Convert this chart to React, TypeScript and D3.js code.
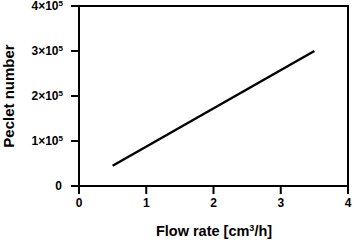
import React from "react";
import * as d3 from "d3";

const flowRates = [0.5, 3.5];
const pecletValues = [45000, 300000];
const xTicks = [0, 1, 2, 3, 4];
const yTicks = [0, 1, 2, 3, 4];

const App = () => {
  const width = 354;
  const height = 242;
  const left = 79, right = 348, top = 6, bottom = 186;

  const x = d3.scaleLinear().domain([0, 4]).range([left, right]);
  const y = d3.scaleLinear().domain([0, 400000]).range([bottom, top]);

  const line = d3
    .line<number>()
    .x((d, i) => x(flowRates[i]))
    .y((d) => y(d));

  const font = "Arial, 'Liberation Sans', sans-serif";

  return (
    <svg
      width={width}
      height={height}
      style={{ position: "absolute", left: 0, top: 0, background: "#fff" }}
      fontFamily={font}
      fontWeight="bold"
    >
      {/* frame */}
      <rect x={left} y={top} width={right - left} height={bottom - top} fill="none" stroke="#000" strokeWidth={2} />

      {/* y ticks */}
      {yTicks.map((t) => (
        <g key={"y" + t}>
          <line x1={left - 8} x2={left} y1={y(t * 100000)} y2={y(t * 100000)} stroke="#000" strokeWidth={2} />
          {t === 0 ? (
            <text x={left - 17} y={y(0) + 4} textAnchor="end" fontSize={12}>0</text>
          ) : (
            <text x={left - 16} y={y(t * 100000) + 4} textAnchor="end" fontSize={12}>
              {t}×10<tspan fontSize={8} dy={-4}>5</tspan>
            </text>
          )}
        </g>
      ))}

      {/* x ticks */}
      {xTicks.map((t) => (
        <g key={"x" + t}>
          <line x1={x(t)} x2={x(t)} y1={bottom} y2={bottom + 8} stroke="#000" strokeWidth={2} />
          <text x={x(t)} y={bottom + 21} textAnchor="middle" fontSize={12}>{t}</text>
        </g>
      ))}

      {/* data line */}
      <path d={line(pecletValues) || ""} fill="none" stroke="#000" strokeWidth={2.5} />

      {/* axis labels */}
      <text x={214} y={236} textAnchor="middle" fontSize={14.5}>
        Flow rate [cm<tspan fontSize={9} dy={-5}>3</tspan><tspan dy={5}>/h]</tspan>
      </text>
      <text transform={`translate(14,${(top + bottom) / 2}) rotate(-90)`} textAnchor="middle" fontSize={15}>
        Peclet number
      </text>
    </svg>
  );
};

export default App;
